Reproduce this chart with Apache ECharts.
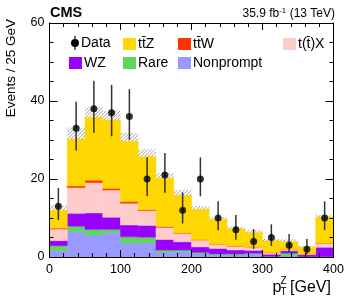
<!DOCTYPE html>
<html><head><meta charset="utf-8">
<script src="https://cdn.jsdelivr.net/npm/echarts@6/dist/echarts.min.js"></script>
<style>html,body{margin:0;padding:0;background:#fff}#c{width:349px;height:298px}</style>
</head><body><div id="c"></div>
<script>
// ---- data ----
const binLow    = [0,25,50,75,100,125,150,175,200,225,250,275,300,325,350,375];
const binWidth  = 25;
const nonprompt = [1.6,6.5,5.6,6.3,3.6,3.6,1.2,1.4,0.8,0.5,0.5,0.8,0.1,0.3,0.1,0.05];
const rare      = [1.3,1.4,1.5,0.8,1.6,1.5,0.6,0.4,0.4,0.3,0.3,0.2,0.1,0.7,0.0,0.05];
const wz        = [1.3,3.3,4.2,3.1,3.0,3.0,2.7,2.1,1.4,1.4,1.0,0.7,0.5,0.6,0.5,2.4];
const ttx       = [3.0,6.6,7.8,7.0,5.6,3.8,3.1,2.2,1.8,1.0,1.0,0.9,0.4,0.3,0.2,1.0];
const ttw       = [0.2,0.4,0.6,0.4,0.4,0.2,0.2,0.1,0.05,0.05,0.05,0.03,0.03,0.03,0.02,0.05];
const ttz       = [4.6,12.1,16.1,17.5,15.5,13.6,12.4,9.6,7.8,6.45,4.35,3.6,3.0,2.0,1.7,6.7];
const totalUnc  = [1.3,2.9,2.6,2.4,2.1,1.9,1.3,1.4,0.8,0.6,0.6,0.7,0.5,0.6,0.4,0.5];
const dataCounts= [13,33,38,37,36,20,21,12,20,10,7,4,5,3,2,10];
const dataLow   = [9.45,27.29,31.87,30.95,30.03,15.57,16.46,8.59,15.57,6.89,4.42,2.09,2.84,1.37,0.71,6.89];
const dataHigh  = [17.69,39.80,45.22,44.14,43.05,25.54,26.65,16.55,25.54,14.27,10.76,7.16,8.38,5.92,4.64,14.27];

const FONT = 'Liberation Sans, Arial, Helvetica, sans-serif';

const layers = [
  {name:'Nonprompt', values:nonprompt, color:'#9999ff'},
  {name:'Rare',      values:rare,      color:'#5cd65c'},
  {name:'WZ',        values:wz,        color:'#9900ff'},
  {name:'t(t\u0304)X', values:ttx,     color:'#ffcccc'},
  {name:'tt\u0304W', values:ttw,       color:'#ff3300'},
  {name:'tt\u0304Z', values:ttz,       color:'#ffd700'}
];

const base = binLow.map(()=>0);
const series = [];
layers.forEach(l=>{
  const d = binLow.map((x,i)=>{
    const y0 = base[i], y1 = base[i]+l.values[i];
    base[i] = y1;
    return [x, x+binWidth, y0, y1];
  });
  series.push({
    type:'custom', name:l.name, itemStyle:{color:l.color}, z:2,
    encode:{x:[0,1], y:[2,3]},
    data:d,
    renderItem:(params, api)=>{
      const p0 = api.coord([api.value(0), api.value(3)]);
      const p1 = api.coord([api.value(1), api.value(2)]);
      const c = api.visual('color');
      return {type:'rect', shape:{x:p0[0], y:p0[1], width:p1[0]-p0[0], height:p1[1]-p0[1]},
              style:{fill:c, stroke:c, lineWidth:0.5}};
    }
  });
});
const total = base.slice();

// uncertainty hatch
series.push({
  type:'custom', name:'unc', z:3, silent:true,
  encode:{x:[0,1], y:[2,3]},
  data: binLow.map((x,i)=>[x, x+binWidth, total[i], total[i]+totalUnc[i]]),
  renderItem:(params, api)=>{
    const p0 = api.coord([api.value(0), api.value(3)]);
    const p1 = api.coord([api.value(1), api.value(2)]);
    const xa=p0[0], xb=p1[0], ya=p0[1], yb=p1[1];
    const s = 3.5, children=[];
    for (let c = Math.ceil((xa+ya)/s)*s; c <= xb+yb; c += s){
      const x1 = Math.max(xa, c-yb), x2 = Math.min(xb, c-ya);
      if (x2 > x1) children.push({type:'line', shape:{x1:x1, y1:c-x1, x2:x2, y2:c-x2},
        style:{stroke:'#8c8c8c', lineWidth:0.8}});
    }
    return {type:'group', children};
  }
});

// data error bars
series.push({
  type:'custom', name:'Data', z:4, itemStyle:{color:'#000'},
  encode:{x:0, y:[1,2]},
  data: binLow.map((x,i)=>[x+binWidth/2, dataLow[i], dataHigh[i]]),
  renderItem:(params, api)=>{
    const a = api.coord([api.value(0), api.value(1)]);
    const b = api.coord([api.value(0), api.value(2)]);
    return {type:'line', shape:{x1:a[0], y1:a[1], x2:b[0], y2:b[1]}, style:{stroke:'#333', lineWidth:1.5}};
  }
});
series.push({
  type:'scatter', name:'Data', z:5, symbol:'circle', symbolSize:7,
  itemStyle:{color:'#000'},
  data: binLow.map((x,i)=>[x+binWidth/2, dataCounts[i]])
});

const dataIcon = 'path://M3.4,0 L4.6,0 L4.6,14 L3.4,14 Z M0,7 A4,4 0 1 1 8,7 A4,4 0 1 1 0,7 Z';
function lg(name, left, top, icon){
  return {show:true, data:[{name, icon: icon||'rect'}], left, top, padding:0,
          itemWidth: icon? 8 : 13, itemHeight: icon? 14 : 12, selectedMode:false,
          textStyle:{fontFamily:FONT, fontSize:14, color:'#000', padding:[0,0,0,-3]}};
}

const axisCommon = {
  type:'value', z:10,
  axisLine:{show:true, onZero:false, lineStyle:{color:'#000', width:1}},
  splitLine:{show:false},
  axisTick:{show:true, inside:true, length:8, lineStyle:{color:'#000', width:1}},
  minorTick:{show:true, length:4, lineStyle:{color:'#000', width:1}}
};
const lab = {fontFamily:FONT, fontSize:12.5, color:'#000'};

const chart = echarts.init(document.getElementById('c'), null, {renderer:'canvas'});
chart.setOption({
  animation:false,
  backgroundColor:'#fff',
  grid:{left:49.5, right:15.5, top:23, bottom:41},
  legend:[
    lg('Data', 71, 36, dataIcon),
    lg('tt\u0304Z', 123, 37),
    lg('tt\u0304W', 178, 37),
    lg('t(t\u0304)X', 283, 37),
    lg('WZ', 69, 56),
    lg('Rare', 123, 56),
    lg('Nonprompt', 178, 56)
  ],
  xAxis:[
    Object.assign({}, axisCommon, {min:0, max:400, interval:100, position:'bottom',
      minorTick:Object.assign({}, axisCommon.minorTick, {splitNumber:5}),
      axisTick:Object.assign({}, axisCommon.axisTick, {length:7}),
      axisLabel:Object.assign({margin:6}, lab)}),
    Object.assign({}, axisCommon, {min:0, max:400, interval:100, position:'top',
      minorTick:Object.assign({}, axisCommon.minorTick, {splitNumber:5}),
      axisTick:Object.assign({}, axisCommon.axisTick, {length:7}),
      axisLabel:{show:false}})
  ],
  yAxis:[
    Object.assign({}, axisCommon, {min:0, max:60, interval:20, position:'left',
      minorTick:Object.assign({}, axisCommon.minorTick, {splitNumber:4}),
      axisLabel:Object.assign({margin:5, padding:[5,0,0,0]}, lab)}),
    Object.assign({}, axisCommon, {min:0, max:60, interval:20, position:'right',
      minorTick:Object.assign({}, axisCommon.minorTick, {splitNumber:4}),
      axisLabel:{show:false}})
  ],
  graphic:[
    {type:'text', left:50, top:5, style:{text:'CMS', font:'bold 14.5px '+FONT, fill:'#000'}},
    {type:'text', x:335, y:14, style:{text:'{a|35.9 fb}{s|-1}{a| (13 TeV)}', align:'right', verticalAlign:'middle',
      rich:{a:{fontFamily:FONT, fontSize:12, fill:'#000'}, s:{fontFamily:FONT, fontSize:8, fill:'#000', verticalAlign:'top', padding:[0,0,6,0]}}}},
    {type:'text', x:18, y:19, rotation:Math.PI/2, style:{text:'Events / 25 GeV', font:'13.5px '+FONT, fill:'#000', align:'right', verticalAlign:'bottom'}},
    {type:'text', x:272.5, y:288, style:{text:'p', font:'16px '+FONT, fill:'#000', verticalAlign:'middle'}},
    {type:'text', x:280.5, y:281, style:{text:'Z', font:'10px '+FONT, fill:'#000', verticalAlign:'middle'}},
    {type:'text', x:280.5, y:292, style:{text:'T', font:'10px '+FONT, fill:'#000', verticalAlign:'middle'}},
    {type:'text', x:290, y:288, style:{text:'[GeV]', font:'16px '+FONT, fill:'#000', verticalAlign:'middle'}}
  ],
  series
});
</script></body></html>
